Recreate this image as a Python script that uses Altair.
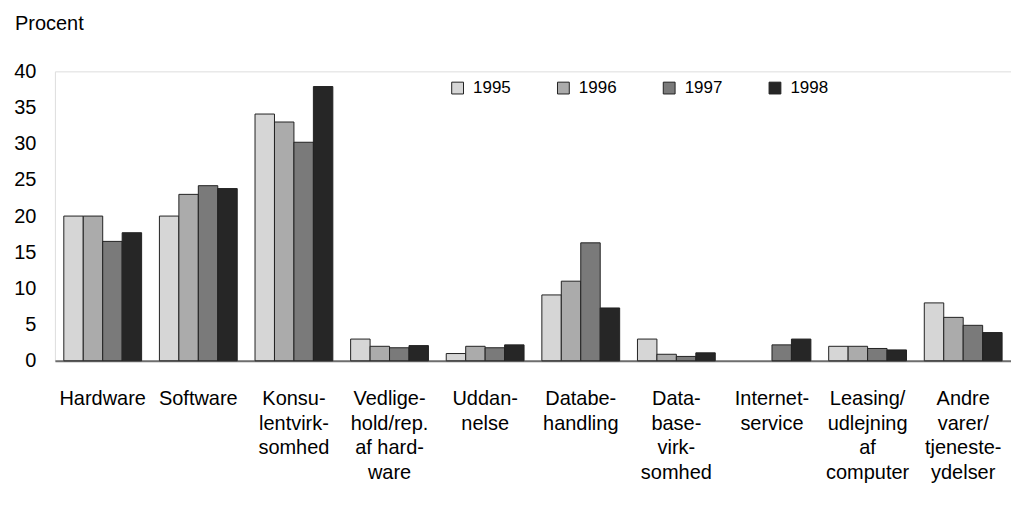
import altair as alt
import pandas as pd

categories = [
    "Hardware",
    "Software",
    "Konsu-|lentvirk-|somhed",
    "Vedlige-|hold/rep.|af hard-|ware",
    "Uddan-|nelse",
    "Databe-|handling",
    "Data-|base-|virk-|somhed",
    "Internet-|service",
    "Leasing/|udlejning|af|computer",
    "Andre|varer/|tjeneste-|ydelser",
]
years = ["1995", "1996", "1997", "1998"]
v1995 = [20.0, 20.0, 34.1, 3.0, 1.0, 9.1, 3.0, 0.0, 2.0, 8.0]
v1996 = [20.0, 23.0, 33.0, 2.0, 2.0, 11.0, 0.9, 0.0, 2.0, 6.0]
v1997 = [16.5, 24.2, 30.2, 1.8, 1.8, 16.3, 0.6, 2.2, 1.7, 4.9]
v1998 = [17.7, 23.8, 37.9, 2.1, 2.2, 7.3, 1.1, 3.0, 1.5, 3.9]
colors = ["#d6d6d6", "#ababab", "#7a7a7a", "#262626"]

rows = []
for yr, vals in zip(years, [v1995, v1996, v1997, v1998]):
    for c, v in zip(categories, vals):
        rows.append({"cat": c, "year": yr, "value": v})
df = pd.DataFrame(rows)

FONT = "Liberation Sans"

chart = (
    alt.Chart(df)
    .transform_filter("datum.value > 0")
    .mark_bar(stroke="#222222", strokeWidth=1)
    .encode(
        x=alt.X(
            "cat:N",
            sort=categories,
            scale=alt.Scale(domain=categories, paddingInner=0.186, paddingOuter=0.093),
            axis=alt.Axis(
                title=None,
                labelAngle=0,
                labelExpr="split(datum.label, '|')",
                labelLineHeight=24.5,
                labelFontSize=20,
                labelFont=FONT,
                labelColor="#000000",
                labelPadding=28,
                labelLimit=200,
                labelBaseline="top",
                ticks=False,
                domainColor="#6e6e6e",
                domainWidth=2,
                grid=False,
            ),
        ),
        xOffset=alt.XOffset("year:N", sort=years, scale=alt.Scale(domain=years)),
        y=alt.Y(
            "value:Q",
            scale=alt.Scale(domain=[0, 40], nice=False),
            axis=alt.Axis(
                title=None,
                values=[0, 5, 10, 15, 20, 25, 30, 35, 40],
                labelFontSize=20,
                labelFont=FONT,
                labelColor="#000000",
                labelPadding=19,
                ticks=False,
                domain=False,
                grid=False,
            ),
        ),
        fill=alt.Fill(
            "year:N",
            sort=years,
            scale=alt.Scale(domain=years, range=colors),
            legend=alt.Legend(
                title=None,
                orient="none",
                direction="horizontal",
                legendX=395,
                legendY=8,
                symbolType="square",
                symbolSize=140,
                symbolStrokeColor="#222222",
                symbolStrokeWidth=1,
                labelFontSize=17,
                labelFont=FONT,
                labelColor="#000000",
                labelOffset=7,
                columnPadding=44,
                padding=0,
            ),
        ),
    )
    .properties(
        width=958,
        height=290,
        autosize=alt.AutoSizeParams(type="none"),
        padding={"left": 47, "top": 63, "right": 0, "bottom": 130},
        title=alt.TitleParams(
            "Procent",
            anchor="start",
            frame="group",
            font=FONT,
            fontSize=20,
            fontWeight="normal",
            color="#000000",
            dx=-40,
            offset=27,
        ),
    )
    .configure_view(fill="#e4e4e4", stroke=None)
    .configure(background="white")
)

chart.save("out.html", embed_options={"renderer": "svg", "actions": False})
